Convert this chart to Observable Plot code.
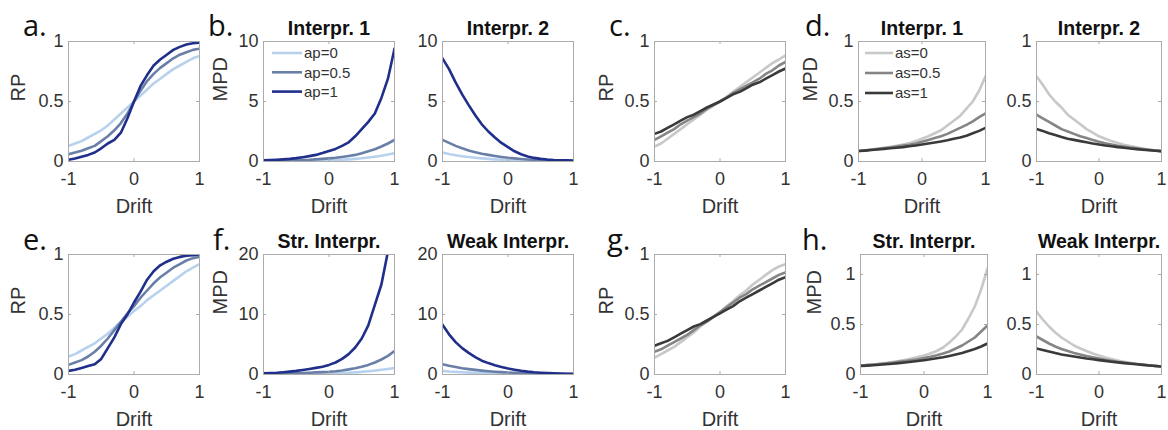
<!DOCTYPE html>
<html><head><meta charset="utf-8">
<script src="https://cdn.jsdelivr.net/npm/d3@7"></script>
<script src="https://cdn.jsdelivr.net/npm/@observablehq/plot@0.6"></script>
<style>
body{margin:0;background:#fff;}
#root{position:relative;width:1168px;height:430px;overflow:hidden;font-family:"Liberation Sans",Arial,sans-serif;}
#root > svg{position:absolute;}
</style></head><body><div id="root"></div>
<script>
// ---------- data ----------
const drift = [-1,-0.9,-0.8,-0.7,-0.6,-0.5,-0.4,-0.3,-0.2,-0.1,0,0.1,0.2,0.3,0.4,0.5,0.6,0.7,0.8,0.9,1];
const xTicks = [-1,0,1];
const apLabels = ["ap=0","ap=0.5","ap=1"];
const asLabels = ["as=0","as=0.5","as=1"];
const blues = ["#b8d2ee","#6a7fa8","#1f2f8a"];
const grays = ["#c8c8c8","#858585","#3a3a3a"];

// a. RP vs drift (ap)
const a_ap0  = [0.13,0.15,0.17,0.20,0.23,0.26,0.30,0.35,0.40,0.45,0.50,0.55,0.60,0.65,0.69,0.73,0.77,0.80,0.83,0.86,0.88];
const a_ap05 = [0.06,0.075,0.09,0.11,0.13,0.17,0.21,0.26,0.32,0.40,0.50,0.59,0.67,0.73,0.78,0.82,0.86,0.89,0.91,0.93,0.94];
const a_ap1  = [0.015,0.025,0.04,0.055,0.075,0.11,0.15,0.18,0.24,0.36,0.50,0.63,0.72,0.80,0.85,0.89,0.93,0.955,0.975,0.985,0.99];
// b. MPD Interpr. 1 / 2 (ap)
const b1_ap0  = [0.02,0.025,0.03,0.035,0.04,0.05,0.06,0.07,0.08,0.09,0.10,0.12,0.15,0.18,0.22,0.27,0.33,0.40,0.48,0.58,0.70];
const b1_ap05 = [0.05,0.06,0.07,0.08,0.09,0.10,0.12,0.14,0.18,0.22,0.26,0.31,0.38,0.46,0.55,0.68,0.85,1.02,1.25,1.50,1.80];
const b1_ap1  = [0.10,0.12,0.15,0.18,0.22,0.28,0.36,0.45,0.55,0.70,0.88,1.05,1.30,1.60,2.10,2.70,3.30,4.00,5.30,6.90,9.40];
const b2_ap0  = [0.75,0.62,0.52,0.44,0.37,0.31,0.26,0.22,0.18,0.15,0.12,0.10,0.08,0.07,0.06,0.05,0.04,0.035,0.03,0.025,0.02];
const b2_ap05 = [1.80,1.55,1.30,1.10,0.92,0.78,0.65,0.55,0.46,0.38,0.31,0.26,0.21,0.17,0.14,0.12,0.10,0.08,0.07,0.06,0.05];
const b2_ap1  = [8.6,7.7,6.6,5.6,4.7,3.85,3.1,2.5,2.0,1.55,1.2,0.85,0.60,0.42,0.30,0.22,0.16,0.12,0.10,0.09,0.08];
// c. RP vs drift (as)
const c_as0  = [0.125,0.15,0.19,0.23,0.27,0.31,0.35,0.39,0.43,0.465,0.50,0.54,0.58,0.62,0.66,0.70,0.74,0.78,0.82,0.85,0.885];
const c_as05 = [0.18,0.21,0.24,0.27,0.31,0.34,0.37,0.40,0.44,0.47,0.50,0.53,0.57,0.60,0.63,0.66,0.69,0.73,0.76,0.80,0.83];
const c_as1  = [0.23,0.25,0.28,0.31,0.34,0.37,0.39,0.42,0.45,0.475,0.50,0.53,0.56,0.58,0.61,0.64,0.66,0.69,0.72,0.75,0.775];
// d. MPD Interpr. 1 / 2 (as)
const d1_as0  = [0.087,0.093,0.10,0.107,0.115,0.123,0.132,0.142,0.153,0.17,0.19,0.21,0.235,0.26,0.30,0.34,0.38,0.44,0.50,0.59,0.71];
const d1_as05 = [0.087,0.092,0.098,0.104,0.11,0.117,0.124,0.132,0.14,0.15,0.165,0.18,0.195,0.21,0.23,0.255,0.28,0.305,0.335,0.37,0.40];
const d1_as1  = [0.087,0.091,0.096,0.10,0.105,0.11,0.115,0.12,0.127,0.134,0.142,0.15,0.158,0.167,0.177,0.19,0.20,0.215,0.235,0.255,0.28];
const d2_as0  = [0.71,0.64,0.56,0.50,0.45,0.39,0.35,0.31,0.27,0.24,0.21,0.19,0.17,0.155,0.14,0.128,0.118,0.108,0.10,0.092,0.085];
const d2_as05 = [0.39,0.36,0.33,0.30,0.27,0.25,0.23,0.21,0.195,0.18,0.165,0.152,0.142,0.132,0.124,0.116,0.11,0.103,0.097,0.091,0.086];
const d2_as1  = [0.27,0.255,0.235,0.22,0.205,0.19,0.18,0.17,0.16,0.15,0.142,0.134,0.127,0.12,0.114,0.108,0.103,0.098,0.094,0.09,0.086];
// e. RP vs drift (ap)
const e_ap0  = [0.15,0.17,0.20,0.23,0.26,0.30,0.34,0.39,0.44,0.48,0.53,0.57,0.62,0.66,0.70,0.74,0.78,0.82,0.86,0.89,0.92];
const e_ap05 = [0.08,0.10,0.12,0.15,0.19,0.24,0.30,0.37,0.44,0.51,0.57,0.64,0.70,0.76,0.81,0.85,0.89,0.92,0.95,0.97,0.98];
const e_ap1  = [0.03,0.04,0.055,0.07,0.085,0.13,0.22,0.31,0.42,0.50,0.60,0.69,0.79,0.86,0.91,0.94,0.965,0.98,0.99,0.995,1.0];
// f. MPD Str. / Weak Interpr. (ap)
const f1_ap0  = [0.04,0.05,0.06,0.07,0.08,0.09,0.10,0.12,0.14,0.16,0.18,0.21,0.25,0.30,0.36,0.44,0.53,0.64,0.78,0.93,1.1];
const f1_ap05 = [0.10,0.12,0.14,0.16,0.19,0.22,0.26,0.30,0.35,0.40,0.46,0.55,0.68,0.85,1.05,1.30,1.60,2.00,2.50,3.10,3.90];
const f1_ap1  = [0.20,0.25,0.30,0.38,0.48,0.60,0.75,0.92,1.10,1.30,1.60,2.00,2.60,3.40,4.50,6.00,8.20,11.6,15.0,20.5,27.0];
const f2_ap0  = [0.60,0.50,0.43,0.37,0.32,0.27,0.23,0.20,0.17,0.15,0.13,0.11,0.095,0.08,0.07,0.06,0.055,0.05,0.045,0.04,0.04];
const f2_ap05 = [1.70,1.45,1.25,1.05,0.90,0.77,0.65,0.55,0.47,0.40,0.34,0.29,0.24,0.20,0.17,0.14,0.12,0.10,0.09,0.08,0.07];
const f2_ap1  = [8.3,6.7,5.4,4.4,3.6,2.9,2.3,1.9,1.55,1.25,1.0,0.8,0.62,0.48,0.37,0.29,0.23,0.18,0.15,0.12,0.10];
// g. RP vs drift (as)
const g_as0  = [0.14,0.17,0.20,0.23,0.27,0.31,0.35,0.40,0.44,0.48,0.52,0.57,0.61,0.66,0.70,0.75,0.79,0.83,0.87,0.90,0.92];
const g_as05 = [0.19,0.21,0.24,0.27,0.30,0.33,0.37,0.41,0.44,0.48,0.52,0.56,0.60,0.64,0.67,0.71,0.74,0.77,0.80,0.83,0.85];
const g_as1  = [0.24,0.26,0.28,0.31,0.34,0.37,0.40,0.42,0.45,0.48,0.51,0.54,0.57,0.61,0.64,0.67,0.70,0.73,0.76,0.79,0.81];
// h. MPD Str. / Weak Interpr. (as)
const h1_as0  = [0.09,0.095,0.10,0.107,0.115,0.124,0.134,0.146,0.16,0.175,0.19,0.21,0.235,0.27,0.32,0.38,0.45,0.56,0.68,0.85,1.06];
const h1_as05 = [0.09,0.094,0.099,0.105,0.111,0.118,0.126,0.134,0.143,0.153,0.165,0.178,0.193,0.21,0.23,0.26,0.29,0.33,0.37,0.43,0.49];
const h1_as1  = [0.085,0.089,0.093,0.098,0.103,0.108,0.114,0.12,0.127,0.135,0.143,0.152,0.162,0.173,0.186,0.20,0.215,0.235,0.255,0.28,0.31];
const h2_as0  = [0.63,0.55,0.48,0.42,0.37,0.33,0.29,0.26,0.235,0.21,0.19,0.17,0.155,0.14,0.128,0.118,0.108,0.10,0.092,0.086,0.08];
const h2_as05 = [0.38,0.345,0.31,0.28,0.255,0.235,0.215,0.20,0.185,0.172,0.16,0.148,0.138,0.128,0.12,0.112,0.105,0.098,0.092,0.086,0.08];
const h2_as1  = [0.26,0.245,0.23,0.215,0.20,0.19,0.18,0.17,0.16,0.152,0.144,0.136,0.128,0.121,0.114,0.108,0.102,0.096,0.09,0.085,0.08];

// ---------- layout ----------
const FONT = '"Liberation Sans", Arial, sans-serif';
const ML = 70, MR = 12, MT = 46, MB = 66;
const panels = [
  {left:68,  top:41,  w:131, h:120, ydom:[0,1],   yticks:[0,0.5,1], ylabel:"RP",  yoff:58, title:null,            series:[a_ap0,a_ap05,a_ap1],    colors:blues},
  {left:263, top:41,  w:131, h:120, ydom:[0,10],  yticks:[0,5,10],  ylabel:"MPD", yoff:51, title:"Interpr. 1",    series:[b1_ap0,b1_ap05,b1_ap1], colors:blues},
  {left:442, top:41,  w:131, h:120, ydom:[0,10],  yticks:[0,5,10],  ylabel:null,  yoff:0,  title:"Interpr. 2",    series:[b2_ap0,b2_ap05,b2_ap1], colors:blues},
  {left:654, top:41,  w:131, h:120, ydom:[0,1],   yticks:[0,0.5,1], ylabel:"RP",  yoff:56, title:null,            series:[c_as0,c_as05,c_as1],    colors:grays},
  {left:858, top:41,  w:127, h:120, ydom:[0,1],   yticks:[0,0.5,1], ylabel:"MPD", yoff:56, title:"Interpr. 1",    series:[d1_as0,d1_as05,d1_as1], colors:grays},
  {left:1036,top:41,  w:125, h:120, ydom:[0,1],   yticks:[0,0.5,1], ylabel:null,  yoff:0,  title:"Interpr. 2",    series:[d2_as0,d2_as05,d2_as1], colors:grays},
  {left:68,  top:254, w:131, h:120, ydom:[0,1],   yticks:[0,0.5,1], ylabel:"RP",  yoff:58, title:null,            series:[e_ap0,e_ap05,e_ap1],    colors:blues},
  {left:263, top:254, w:131, h:120, ydom:[0,20],  yticks:[0,10,20], ylabel:"MPD", yoff:51, title:"Str. Interpr.", series:[f1_ap0,f1_ap05,f1_ap1], colors:blues},
  {left:442, top:254, w:131, h:120, ydom:[0,20],  yticks:[0,10,20], ylabel:null,  yoff:0,  title:"Weak Interpr.", series:[f2_ap0,f2_ap05,f2_ap1], colors:blues},
  {left:654, top:254, w:131, h:120, ydom:[0,1],   yticks:[0,0.5,1], ylabel:"RP",  yoff:56, title:null,            series:[g_as0,g_as05,g_as1],    colors:grays},
  {left:860, top:254, w:127, h:120, ydom:[0,1.2], yticks:[0,0.5,1], ylabel:"MPD", yoff:54, title:"Str. Interpr.", series:[h1_as0,h1_as05,h1_as1], colors:grays},
  {left:1036,top:254, w:125, h:120, ydom:[0,1.2], yticks:[0,0.5,1], ylabel:null,  yoff:0,  title:"Weak Interpr.", series:[h2_as0,h2_as05,h2_as1], colors:grays}
];

const root = document.getElementById("root");
const BOX = "#ababab";
const TXT = "#333333";

for (const p of panels) {
  const marks = [];
  // series lines (light, mid, dark drawn in order)
  p.series.forEach((vals, i) => {
    const rows = drift.map((x, j) => ({x, y: vals[j]}));
    marks.push(Plot.line(rows, {x: "x", y: "y", stroke: p.colors[i], strokeWidth: 2.6, clip: true}));
  });
  marks.push(Plot.frame({stroke: BOX, strokeWidth: 1}));
  // inward ticks on all four sides (MATLAB box)
  marks.push(Plot.ruleX(xTicks, {x: d => d, insetTop: p.h - 3, stroke: BOX}));
  marks.push(Plot.ruleX(xTicks, {x: d => d, insetBottom: p.h - 3, stroke: BOX}));
  marks.push(Plot.ruleY(p.yticks, {y: d => d, insetRight: p.w - 3, stroke: BOX}));
  marks.push(Plot.ruleY(p.yticks, {y: d => d, insetLeft: p.w - 3, stroke: BOX}));
  // axes tick labels
  marks.push(Plot.axisX(xTicks, {tickSize: 0, tickPadding: 11, tickFormat: d => String(d), fontSize: 18, color: TXT, label: null}));
  marks.push(Plot.axisY(p.yticks, {tickSize: 0, tickPadding: 5, tickFormat: d => String(d), fontSize: 18, color: TXT, label: null}));
  // axis labels
  marks.push(Plot.text(["Drift"], {text: d => d, frameAnchor: "bottom", lineAnchor: "top", dy: 37, fontSize: 20, fill: TXT}));
  if (p.ylabel) marks.push(Plot.text([p.ylabel], {text: d => d, frameAnchor: "left", rotate: -90, lineAnchor: "top", dx: -p.yoff, fontSize: 20, fill: TXT}));
  if (p.title) marks.push(Plot.text([p.title], {text: d => d, frameAnchor: "top", lineAnchor: "bottom", dy: -7, fontSize: 19.5, fontWeight: "bold", fill: "#111"}));

  const svg = Plot.plot({
    width: p.w + ML + MR, height: p.h + MT + MB,
    marginLeft: ML, marginRight: MR, marginTop: MT, marginBottom: MB,
    x: {domain: [-1, 1], axis: null},
    y: {domain: p.ydom, axis: null},
    style: {fontFamily: FONT, background: "transparent", overflow: "visible"},
    marks
  });
  svg.style.left = (p.left - ML) + "px";
  svg.style.top = (p.top - MT) + "px";
  root.appendChild(svg);
}

// ---------- overlay: panel letters and legends ----------
const letters = [
  {t:"a.", x:23,  y:36}, {t:"b.", x:208, y:36}, {t:"c.", x:609, y:36}, {t:"d.", x:805, y:36},
  {t:"e.", x:23,  y:250},{t:"f.", x:213, y:250},{t:"g.", x:607, y:250},{t:"h.", x:802, y:250}
];
const legends = [
  {labels: apLabels, colors: blues, x0: 272, x1: 302, y0: 53, step: 19.3},
  {labels: asLabels, colors: grays, x0: 865, x1: 893, y0: 53, step: 20}
];
const ov = d3.select(root).append("svg")
  .attr("width", 1168).attr("height", 430)
  .style("left", "0px").style("top", "0px").style("pointer-events", "none");
ov.selectAll("text.letter").data(letters).join("text")
  .attr("class", "letter")
  .attr("x", d => d.x).attr("y", d => d.y)
  .attr("font-family", '"Open Sans", "Noto Sans", sans-serif')
  .attr("font-size", 29).attr("fill", "#111")
  .text(d => d.t);
for (const L of legends) {
  const g = ov.append("g");
  L.labels.forEach((lab, i) => {
    const y = L.y0 + i * L.step;
    g.append("line").attr("x1", L.x0).attr("x2", L.x1).attr("y1", y).attr("y2", y)
      .attr("stroke", L.colors[i]).attr("stroke-width", 2.6);
    g.append("text").attr("x", L.x1 + 2).attr("y", y).attr("dy", "0.35em")
      .attr("font-family", FONT).attr("font-size", 15).attr("fill", TXT).text(lab);
  });
}
</script>
</body></html>
